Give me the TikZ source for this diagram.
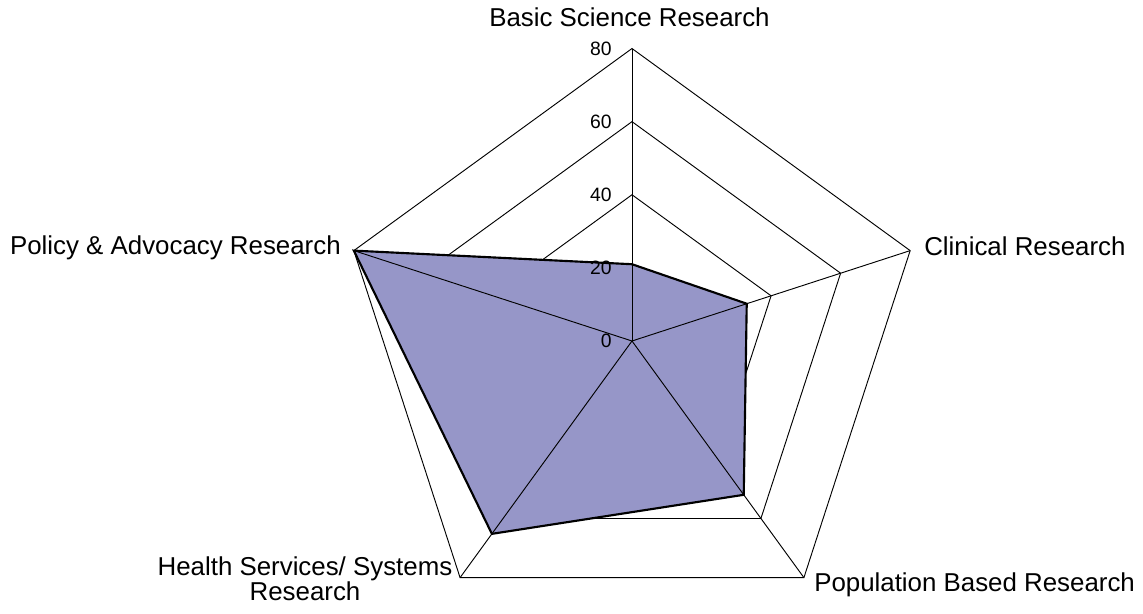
\documentclass[tikz,border=0pt]{standalone}
\usepackage{fontspec}
\setmainfont{Liberation Sans}
\definecolor{areablue}{RGB}{150,150,200}
\begin{document}
\begin{tikzpicture}[x=0.75pt,y=0.75pt]
	\tikzset{
		grid/.style={black, line width=0.7pt},
		axislabel/.style={inner sep=0pt, font=\fontsize{19.4}{18.4}\selectfont},
		ticklabel/.style={inner sep=0pt, anchor=east, font=\fontsize{14.5}{16}\selectfont},
		dataarea/.style={fill=areablue, draw=black, line width=1.6pt, line join=miter},
	}
	\useasboundingbox (-632,-273) rectangle (511,341);
	\def\U{3.656} % pixels per unit of the scale

	\coordinate (c) at (0,0); % centre
	\coordinate (bs) at (90:{80*\U});   % basic science
	\coordinate (cl) at (18:{80*\U});   % clinical
	\coordinate (pb) at (-54:{80*\U});  % population based
	\coordinate (hs) at (-126:{80*\U}); % health services
	\coordinate (pa) at (162:{80*\U});  % policy & advocacy

	% Draw the rings first.
	\draw[grid] (90:{20*\U}) -- (18:{20*\U}) -- (-54:{20*\U}) -- (-126:{20*\U}) -- (162:{20*\U}) -- cycle;
	\draw[grid] (90:{40*\U}) -- (18:{40*\U}) -- (-54:{40*\U}) -- (-126:{40*\U}) -- (162:{40*\U}) -- cycle;
	\draw[grid] (90:{60*\U}) -- (18:{60*\U}) -- (-54:{60*\U}) -- (-126:{60*\U}) -- (162:{60*\U}) -- cycle;
	\draw[grid] (bs) -- (cl) -- (pb) -- (hs) -- (pa) -- cycle;

	% The data values, one on each spoke.
	\coordinate (d1) at (90:{21*\U});
	\coordinate (d2) at (18:{33*\U});
	\coordinate (d3) at (-54:{52*\U});
	\coordinate (d4) at (-126:{65.2*\U});
	\coordinate (d5) at (162:{80*\U});
	\draw[dataarea] (d1) -- (d2) -- (d3) -- (d4) -- (d5) -- cycle;

	% Spokes go on top of the area.
	\draw[grid] (c) -- (bs);
	\draw[grid] (c) -- (cl);
	\draw[grid] (c) -- (pb);
	\draw[grid] (c) -- (hs);
	\draw[grid] (c) -- (pa);

	% Scale labels.
	\path (-20,0) node[ticklabel] (t0) {0};
	\path (-20,{20*\U}) node[ticklabel] (t20) {20};
	\path (-20,{40*\U}) node[ticklabel] (t40) {40};
	\path (-20,{60*\U}) node[ticklabel] (t60) {60};
	\path (-20,{80*\U}) node[ticklabel] (t80) {80};

	% Axis names.
	\path (-2.5,314.3) node[axislabel, anchor=base] (lbs) {Basic Science Research};
	\path (292,85.3) node[axislabel, anchor=base west] (lcl) {Clinical Research};
	\path (182,-250.7) node[axislabel, anchor=base west] (lpb) {Population Based Research};
	\path (-327,-259.5) node[axislabel, anchor=base, align=center] (lhs) {Health Services/ Systems\\Research};
	\path (-291,86) node[axislabel, anchor=base east] (lpa) {Policy \& Advocacy Research};
\end{tikzpicture}
\end{document}
